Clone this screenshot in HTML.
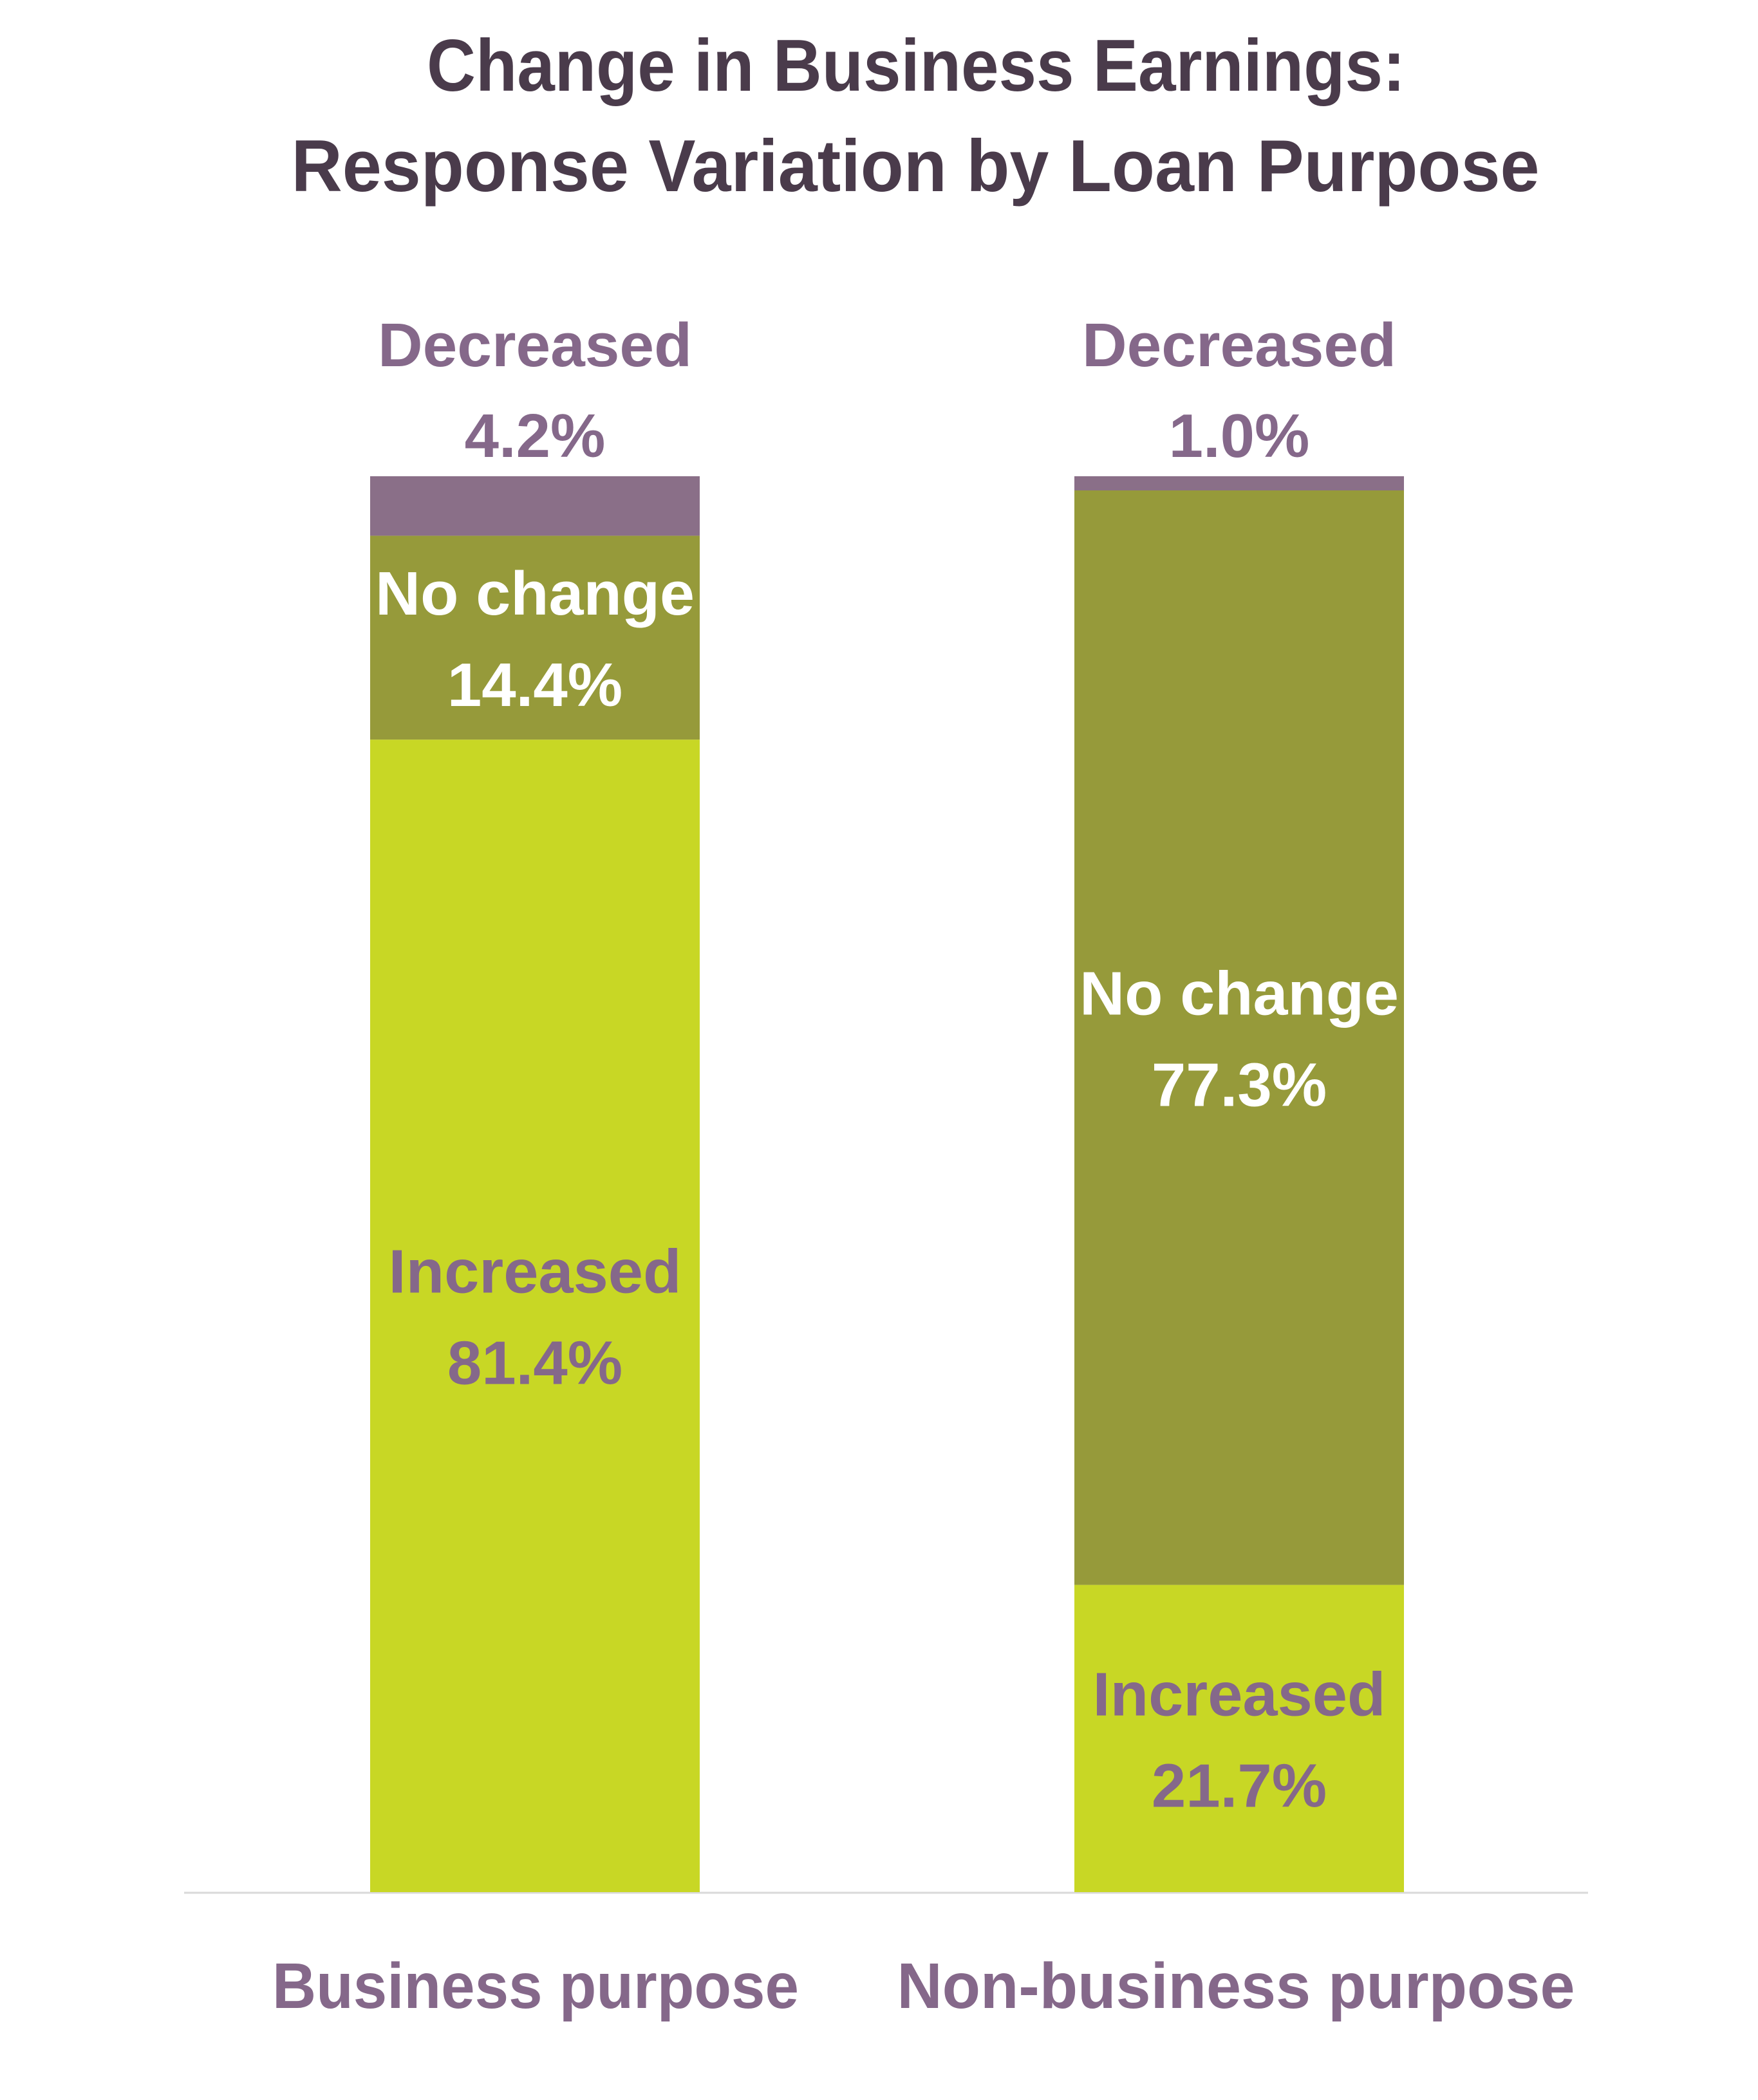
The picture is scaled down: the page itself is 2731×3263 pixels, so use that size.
<!DOCTYPE html>
<html><head><meta charset="utf-8"><style>
html,body{margin:0;padding:0;background:#fff;}
svg{display:block;font-family:"Liberation Sans",sans-serif;font-weight:bold;}
</style></head><body>
<svg id="chart" width="2731" height="3263" viewBox="0 0 2731 3263" xmlns="http://www.w3.org/2000/svg">
<text x="1423" y="141" text-anchor="middle" font-size="114" fill="#4a3b4b" textLength="1520" lengthAdjust="spacingAndGlyphs">Change in Business Earnings:</text>
<text x="1422" y="297" text-anchor="middle" font-size="114" fill="#4a3b4b" textLength="1939" lengthAdjust="spacingAndGlyphs">Response Variation by Loan Purpose</text>
<line x1="286" y1="2941" x2="2467" y2="2941" stroke="#d9d9d9" stroke-width="3"/>
<g id="bars"></g>
</svg>
<script>
const categories = ["Business purpose", "Non-business purpose"];
const increased = [81.4, 21.7];
const noChange = [14.4, 77.3];
const decreased = [4.2, 1.0];
const seriesNames = ["Increased", "No change", "Decreased"];

const NS = "http://www.w3.org/2000/svg";
const g = document.getElementById("bars");
const baseY = 2940, plotH = 2200;
const barCenters = [831, 1925], barW = 512;
const colors = ["#c8d725", "#969a3a", "#8a6f88"];
const labelColors = ["#85688a", "#ffffff", "#85688a"];
const nameLens = [455, 496, 488];
function yScale(v){ return baseY - v / 100 * plotH; }
function txt(x, y, s, fill, size, len){
  const t = document.createElementNS(NS, "text");
  t.setAttribute("x", x); t.setAttribute("y", y);
  t.setAttribute("text-anchor", "middle");
  t.setAttribute("font-size", size);
  t.setAttribute("fill", fill);
  if (len) { t.setAttribute("textLength", len); t.setAttribute("lengthAdjust", "spacingAndGlyphs"); }
  t.textContent = s;
  g.appendChild(t);
  return t;
}
categories.forEach((cat, i) => {
  const vals = [increased[i], noChange[i], decreased[i]];
  let cum = 0;
  vals.forEach((v, s) => {
    const y0 = yScale(cum), y1 = yScale(cum + v);
    const r = document.createElementNS(NS, "rect");
    r.setAttribute("x", barCenters[i] - barW / 2);
    r.setAttribute("y", y1);
    r.setAttribute("width", barW);
    r.setAttribute("height", y0 - y1);
    r.setAttribute("fill", colors[s]);
    
    
    g.appendChild(r);
    let nameY, pctY;
    if (s === 2) {
      nameY = y1 - 171; pctY = y1 - 30;
    } else {
      const c = (y0 + y1) / 2;
      nameY = c - 36; pctY = c + 106;
    }
    const a = txt(barCenters[i], nameY, seriesNames[s], labelColors[s], 96, nameLens[s]);
    
    
    const b = txt(barCenters[i], pctY, v.toFixed(1) + "%", labelColors[s], 96);
    
    
    cum += v;
  });
  const c = txt(barCenters[i] + (i === 0 ? 1 : -5), 3120, cat, "#85688a", 100, i === 0 ? 818 : 1053);
  
  
});
</script>
</body></html>
